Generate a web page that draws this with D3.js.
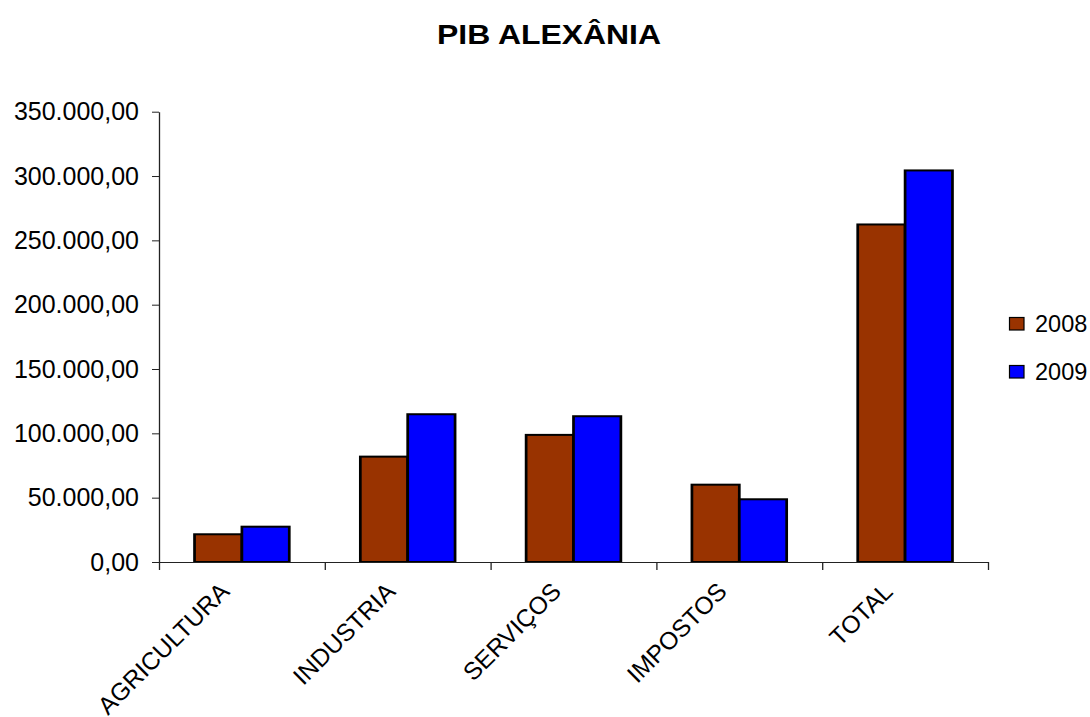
<!DOCTYPE html>
<html>
<head>
<meta charset="utf-8">
<script src="https://cdn.jsdelivr.net/npm/d3@7"></script>
<style>
  html, body { margin: 0; padding: 0; background: #ffffff; }
  svg { display: block; }
  text { font-family: "Liberation Sans", Arial, Helvetica, sans-serif; fill: #000; }
</style>
</head>
<body>
<svg id="chart" width="1090" height="717"></svg>
<script>
// ---- data ----
const title = "PIB ALEXÂNIA";
const categories = ["AGRICULTURA", "INDUSTRIA", "SERVIÇOS", "IMPOSTOS", "TOTAL"];
const series = ["2008", "2009"];
const values2008 = [21550, 81900, 98800, 60100, 262350];
const values2009 = [27450, 114850, 113300, 48750, 304350];
const yTicks = [0, 50000, 100000, 150000, 200000, 250000, 300000, 350000];
const colors = ["#993300", "#0000FF"];

const seriesValues = [values2008, values2009];
const table = categories.map((c, i) => ({
  category: c,
  values: series.map((s, j) => ({ key: s, value: seriesValues[j][i] }))
}));

// ---- layout ----
const W = 1090, H = 717;
const sx = 1.3625;               // horizontal stretch of the bar outlines
const plotLeft = 159, plotRight = 988, plotTop = 111.7, plotBottom = 562;
const FONT = "'Liberation Sans', Arial, Helvetica, sans-serif";

const svg = d3.select("#chart");
svg.append("rect").attr("width", W).attr("height", H).attr("fill", "#fff");

const locale = d3.formatLocale({ decimal: ",", thousands: ".", grouping: [3], currency: ["R$", ""] });
const fmt = locale.format(",.2f");

const x0 = d3.scaleBand().domain(categories).range([plotLeft, plotRight]).padding(0);
const x1 = d3.scaleBand().domain(series).range([0, x0.bandwidth()]).paddingInner(0).paddingOuter(0.75);
const y = d3.scaleLinear().domain([0, 350000]).range([plotBottom, plotTop]);

// bars (drawn in a horizontally stretched frame so the side outlines are thicker)
const g = svg.append("g").attr("transform", `scale(${sx},1)`);
const groups = g.append("g").selectAll("g").data(table).join("g")
  .attr("transform", d => `translate(${x0(d.category) / sx},0)`);
groups.selectAll("rect").data(d => d.values).join("rect")
  .attr("x", d => x1(d.key) / sx)
  .attr("width", x1.bandwidth() / sx)
  .attr("y", d => y(d.value))
  .attr("height", d => y(0) - y(d.value))
  .attr("fill", (d, i) => colors[i])
  .attr("stroke", "#000")
  .attr("stroke-width", 2);

// y axis
const yAxis = svg.append("g")
  .attr("transform", `translate(${plotLeft},0)`)
  .call(d3.axisLeft(y).tickValues(yTicks).tickFormat(fmt).tickSize(7).tickSizeOuter(0).tickPadding(13));
yAxis.select(".domain").attr("stroke", "#222").attr("stroke-width", 1.3);
yAxis.selectAll(".tick line").attr("stroke", "#222").attr("stroke-width", 1);
yAxis.selectAll(".tick text").attr("font-size", 25).attr("font-family", FONT).attr("fill", "#000");

// x axis (ticks at category boundaries)
const xb = d3.scaleLinear().domain([0, categories.length]).range(x0.range());
const xAxis = svg.append("g")
  .attr("transform", `translate(0,${plotBottom})`)
  .call(d3.axisBottom(xb).tickValues(d3.range(categories.length + 1)).tickFormat("").tickSize(8).tickSizeOuter(0));
xAxis.select(".domain").attr("stroke", "#222").attr("stroke-width", 1);
xAxis.selectAll(".tick line").attr("stroke", "#222").attr("stroke-width", 1.3);

// category labels (rotated)
svg.append("g").selectAll("text").data(categories).join("text")
  .attr("transform", c => `translate(${x0(c) + x0.bandwidth() / 2 - 11},${plotBottom + 31}) rotate(-45)`)
  .attr("text-anchor", "end")
  .attr("font-size", 24.5)
  .text(c => c);

// title
svg.append("text")
  .attr("x", 549).attr("y", 43.5)
  .attr("text-anchor", "middle")
  .attr("font-size", 28).attr("font-weight", "bold")
  .attr("textLength", 224).attr("lengthAdjust", "spacingAndGlyphs")
  .text(title);

// legend
const legend = svg.append("g").selectAll("g").data(series).join("g")
  .attr("transform", (d, i) => `translate(1009.5,${317.5 + i * 48})`);
legend.append("rect")
  .attr("width", 14.5).attr("height", 12.5)
  .attr("fill", (d, i) => colors[i])
  .attr("stroke", "#000").attr("stroke-width", 1.2);
legend.append("text")
  .attr("x", 25.5).attr("y", 14.5)
  .attr("font-size", 23.5)
  .text(d => d);
</script>
</body>
</html>
